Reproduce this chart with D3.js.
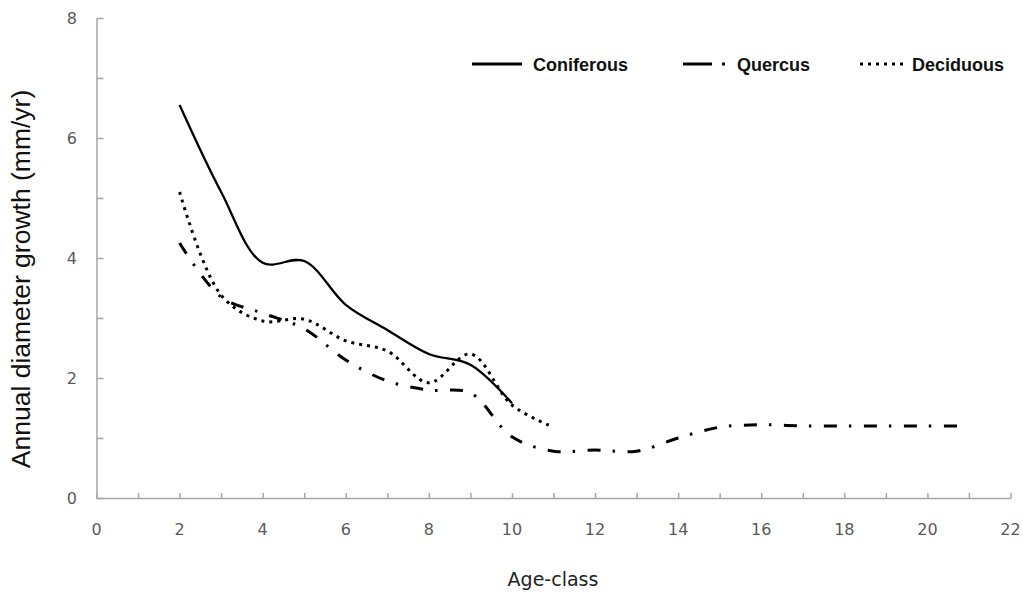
<!DOCTYPE html>
<html>
<head>
<meta charset="utf-8">
<script src="https://cdnjs.cloudflare.com/ajax/libs/d3/7.8.5/d3.min.js"></script>
<style>
  body { margin: 0; background: #fff; }
  .axis path, .axis line { stroke: #a6a6a6; stroke-width: 1.5px; }
  .tick-label { font-family: "DejaVu Sans", sans-serif; font-size: 16px; fill: #595959; }
  .legend text { font-family: "Liberation Sans", Arial, sans-serif; font-weight: bold; font-size: 18px; fill: #111; }
</style>
</head>
<body>
<div id="chart"></div>
<script>
// age classes and growth values (mm/yr)
var coniferousAge = [2, 3, 4, 5, 6, 7, 8, 9, 10]
var coniferous    = [6.55, 5.1, 3.92, 3.95, 3.22, 2.8, 2.4, 2.22, 1.58]

var quercusAge = [2, 3, 4, 5, 6, 7, 8, 9, 10, 11, 12, 13, 14, 15, 16, 17, 18, 19, 20, 21]
var quercus    = [4.25, 3.35, 3.08, 2.82, 2.3, 1.95, 1.8, 1.75, 1.02, 0.78, 0.8, 0.78, 1.0, 1.18, 1.22, 1.2, 1.2, 1.2, 1.2, 1.2]

var deciduousAge = [2, 3, 4, 5, 6, 7, 8, 9, 10, 11]
var deciduous    = [5.1, 3.38, 2.95, 2.98, 2.62, 2.45, 1.92, 2.4, 1.55, 1.18]

var xTicks = d3.range(0, 23, 2)
var yTicks = d3.range(0, 9, 2)

var series = [
  {name: 'Coniferous', age: coniferousAge, vals: coniferous, width: 2.3, dash: null, legDash: null},
  {name: 'Quercus', age: quercusAge, vals: quercus, width: 3, dash: '13,12,2.5,12.5', legDash: '29,10,3,50'},
  {name: 'Deciduous', age: deciduousAge, vals: deciduous, width: 3, dash: '3,5', legDash: '3,5'}
]

var W = 1023, H = 592
var svg = d3.select('#chart').append('svg').attr('width', W).attr('height', H)

var x = d3.scaleLinear().domain([0, 22]).range([96.5, 1010.5])
var y = d3.scaleLinear().domain([0, 8]).range([498, 18])

// axes: minor ticks every unit, labels every two
var gx = svg.append('g').attr('class', 'axis').attr('transform', 'translate(0,' + y(0) + ')')
  .call(d3.axisBottom(x).tickValues(d3.range(0, 23)).tickSize(-5).tickSizeOuter(0).tickFormat(''))
var gy = svg.append('g').attr('class', 'axis').attr('transform', 'translate(' + x(0) + ',0)')
  .call(d3.axisLeft(y).tickValues(d3.range(0, 9)).tickSize(-7).tickSizeOuter(0).tickFormat(''))

svg.selectAll('text.xl').data(xTicks).enter().append('text')
  .attr('class', 'tick-label')
  .attr('x', d => x(d)).attr('y', 535)
  .attr('text-anchor', 'middle')
  .text(d => d)

svg.selectAll('text.yl').data(yTicks).enter().append('text')
  .attr('class', 'tick-label')
  .attr('x', 77).attr('y', d => y(d) + 6)
  .attr('text-anchor', 'end')
  .text(d => d)

svg.append('text')
  .attr('x', 553).attr('y', 586)
  .attr('text-anchor', 'middle')
  .style('font-family', '"DejaVu Sans", sans-serif').style('font-size', '19px').style('fill', '#222')
  .text('Age-class')

svg.append('text')
  .attr('transform', 'translate(30,279) rotate(-90)')
  .attr('text-anchor', 'middle')
  .style('font-family', '"Liberation Sans", Arial, sans-serif').style('font-size', '26.5px').style('fill', '#111')
  .text('Annual diameter growth (mm/yr)')

var line = d3.line()
  .x(d => x(d[0]))
  .y(d => y(d[1]))
  .curve(d3.curveCatmullRom)

series.forEach(function(s){
  svg.append('path')
    .attr('d', line(s.age.map((a, i) => [a, s.vals[i]])))
    .attr('fill', 'none')
    .attr('stroke', '#000')
    .attr('stroke-width', s.width)
    .attr('stroke-dasharray', s.dash)
})

// legend
var leg = svg.append('g').attr('class', 'legend')
var legItems = [
  {x1: 472, x2: 522, tx: 533},
  {x1: 683, x2: 725, tx: 737},
  {x1: 860, x2: 906, tx: 912}
]
series.forEach(function(s, i){
  var p = legItems[i]
  leg.append('line')
    .attr('x1', p.x1).attr('x2', p.x2).attr('y1', 64).attr('y2', 64)
    .attr('stroke', '#000').attr('stroke-width', 3)
    .attr('stroke-dasharray', s.legDash)
  leg.append('text').attr('x', p.tx).attr('y', 71).text(s.name)
})
</script>
</body>
</html>
